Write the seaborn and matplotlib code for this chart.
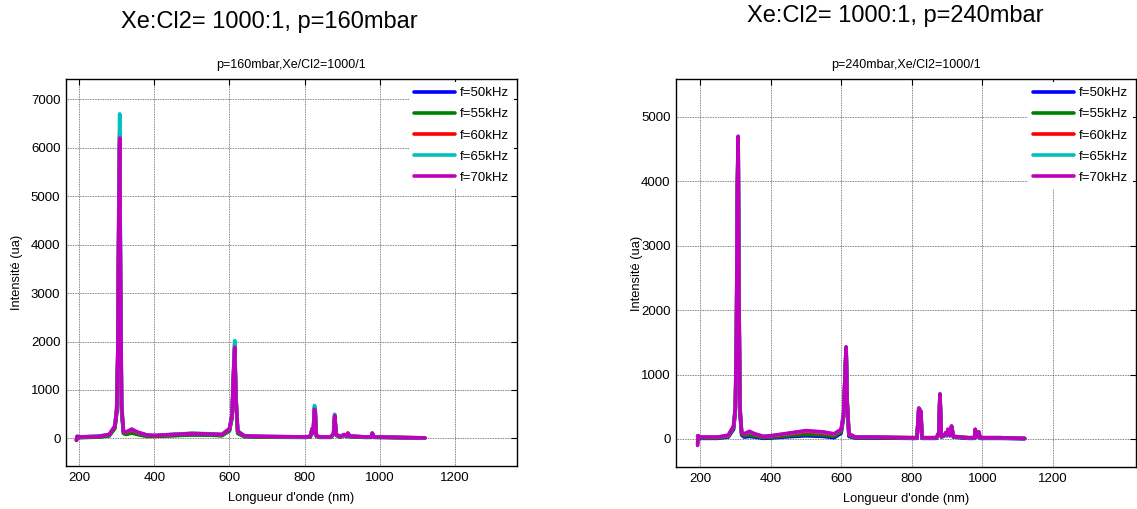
import numpy as np
import pandas as pd
import matplotlib
matplotlib.use("Agg")
import matplotlib.pyplot as plt
import seaborn as sns

# ---- data (wavelength nm, intensity a.u.) ----
series = ["f=50kHz", "f=55kHz", "f=60kHz", "f=65kHz", "f=70kHz"]
colors = ["#0000ff", "#008000", "#ff0000", "#00bfbf", "#bf00bf"]

wl_160 = [193, 195, 200, 250, 280, 295, 300, 303, 306, 308, 310, 313, 318, 325, 340, 355,
          380, 400, 450, 500, 550, 580, 600, 607, 611, 614, 617, 622, 640, 700, 800, 815,
          820, 823, 826, 828, 831, 840, 870, 877, 880, 884, 895, 905, 912, 915, 920, 960,
          978, 980, 984, 1050, 1120]
i160_50 = [-30, 30, 20, 30, 60, 220, 550, 1700, 4800, 6100, 3300, 600, 120, 100, 130, 100,
           50, 45, 60, 80, 75, 60, 170, 450, 1300, 1850, 850, 120, 40, 30, 25, 30,
           180, 110, 560, 540, 50, 25, 25, 90, 450, 70, 30, 70, 40, 100, 40, 25,
           25, 100, 25, 15, 5]
i160_55 = [-30, 30, 15, 25, 50, 200, 500, 1600, 4700, 6000, 3200, 550, 100, 80, 110, 80,
           40, 40, 55, 70, 65, 55, 150, 420, 1250, 1800, 820, 100, 35, 25, 20, 25,
           170, 100, 540, 520, 45, 20, 20, 85, 440, 60, 25, 65, 35, 90, 35, 20,
           20, 95, 20, 15, 5]
i160_60 = [-40, 40, 30, 40, 75, 240, 580, 1750, 5000, 6300, 3400, 650, 140, 120, 170, 120,
           65, 55, 80, 100, 90, 75, 190, 480, 1350, 1950, 880, 140, 45, 35, 30, 35,
           190, 115, 640, 600, 55, 30, 30, 95, 480, 75, 35, 75, 45, 105, 45, 30,
           30, 105, 30, 20, 10]
i160_65 = [-40, 45, 30, 45, 80, 260, 620, 1850, 5300, 6700, 3600, 700, 150, 130, 190, 130,
           70, 60, 85, 105, 95, 80, 200, 500, 1450, 2020, 920, 150, 50, 40, 30, 40,
           200, 120, 680, 650, 60, 30, 30, 100, 500, 80, 40, 80, 50, 110, 50, 30,
           30, 110, 30, 20, 10]
i160_70 = [-40, 40, 30, 40, 80, 250, 600, 1800, 5000, 6200, 3500, 700, 150, 130, 190, 130,
           70, 60, 80, 100, 90, 80, 200, 500, 1400, 1880, 900, 150, 50, 40, 30, 40,
           200, 120, 600, 580, 60, 30, 30, 100, 470, 80, 40, 80, 50, 110, 50, 30,
           30, 110, 30, 20, 10]

wl_240 = [193, 195, 200, 250, 280, 295, 300, 303, 306, 308, 310, 313, 318, 325, 340, 355,
          380, 400, 450, 500, 550, 580, 600, 607, 611, 614, 617, 622, 640, 700, 800, 815,
          820, 822, 824, 826, 829, 840, 870, 877, 880, 884, 893, 897, 900, 903, 908, 913,
          918, 960, 978, 980, 984, 990, 994, 1050, 1120]
i240_50 = [50, 40, 10, 10, 30, 150, 420, 1300, 3800, 4600, 2300, 400, 60, 30, 40, 30,
           10, 15, 35, 50, 40, 20, 90, 340, 950, 1400, 550, 40, 15, 15, 10, 10,
           450, 440, 180, 400, 10, 10, 10, 90, 680, 30, 50, 90, 50, 140, 50, 190,
           30, 10, 10, 140, 30, 100, 10, 10, 5]
i240_55 = [40, 40, 15, 15, 40, 170, 450, 1400, 3900, 4650, 2400, 450, 70, 50, 60, 45,
           20, 25, 50, 70, 60, 40, 110, 360, 970, 1410, 570, 55, 20, 20, 15, 15,
           460, 450, 190, 410, 15, 15, 15, 95, 690, 35, 55, 95, 55, 145, 55, 195,
           35, 15, 15, 145, 35, 105, 15, 15, 5]
i240_60 = [-60, 45, 25, 25, 50, 190, 480, 1450, 3950, 4680, 2450, 480, 90, 70, 100, 70,
           35, 40, 75, 110, 90, 65, 140, 380, 990, 1420, 590, 70, 25, 25, 20, 20,
           470, 460, 195, 420, 20, 20, 20, 100, 695, 40, 60, 100, 60, 150, 60, 200,
           40, 20, 20, 150, 40, 110, 20, 20, 10]
i240_65 = [-80, 50, 30, 30, 55, 200, 500, 1500, 4000, 4700, 2500, 500, 100, 80, 110, 80,
           40, 50, 85, 125, 105, 75, 150, 400, 1000, 1430, 600, 80, 30, 30, 20, 20,
           480, 470, 200, 430, 20, 20, 20, 100, 700, 40, 60, 100, 60, 150, 60, 200,
           40, 20, 20, 150, 40, 110, 20, 20, 10]
i240_70 = [-100, 50, 30, 30, 60, 200, 500, 1500, 4000, 4700, 2500, 500, 100, 80, 120, 80,
           40, 50, 90, 130, 110, 80, 150, 400, 1000, 1430, 600, 80, 30, 30, 20, 20,
           480, 470, 200, 430, 20, 20, 20, 100, 700, 40, 60, 100, 60, 150, 60, 200,
           40, 20, 20, 150, 40, 110, 20, 20, 10]

panels = [
    dict(wl=wl_160, vals=[i160_50, i160_55, i160_60, i160_65, i160_70],
         sup="Xe:Cl2= 1000:1, p=160mbar", title="p=160mbar,Xe/Cl2=1000/1",
         xlim=(165, 1365), ylim=(-570, 7420), yticks=range(0, 7001, 1000),
         rect=[0.058, 0.0845, 0.3967, 0.7603], suppos=(0.2366, 0.957), ylx=-0.095),
    dict(wl=wl_240, vals=[i240_50, i240_55, i240_60, i240_65, i240_70],
         sup="Xe:Cl2= 1000:1, p=240mbar", title="p=240mbar,Xe/Cl2=1000/1",
         xlim=(132, 1436), ylim=(-435, 5590), yticks=range(0, 5001, 1000),
         rect=[0.5946, 0.0825, 0.4046, 0.7623], suppos=(0.787, 0.969), ylx=-0.072),
]

sns.set_theme(style="white")
plt.rcParams["font.family"] = ["Liberation Sans", "DejaVu Sans"]
plt.rcParams["text.color"] = "black"
plt.rcParams["axes.labelcolor"] = "black"

fig = plt.figure(figsize=(11.37, 5.09), dpi=100)

for p in panels:
    frames = []
    for name, v in zip(series, p["vals"]):
        frames.append(pd.DataFrame({"wl": p["wl"], "I": v, "f": name}))
    df = pd.concat(frames, ignore_index=True)

    ax = fig.add_axes(p["rect"])
    sns.lineplot(data=df, x="wl", y="I", hue="f", palette=colors, hue_order=series,
                 estimator=None, linewidth=2.6, ax=ax)
    ax.set_xlim(*p["xlim"])
    ax.set_ylim(*p["ylim"])
    ax.set_xticks(range(200, 1201, 200))
    ax.set_yticks(list(p["yticks"]))
    ax.grid(True, color="0.35", linestyle=(0, (1, 1)), linewidth=0.6)
    ax.tick_params(direction="in", top=True, right=True, length=4, width=0.8,
                   labelsize=9.5, colors="black", pad=4)
    for s in ax.spines.values():
        s.set_color("black")
        s.set_linewidth(1.0)
    ax.set_xlabel("Longueur d'onde (nm)", fontsize=9.3, labelpad=6, color="black")
    ax.set_ylabel("Intensité (ua)", fontsize=9.3, color="black")
    ax.yaxis.set_label_coords(p["ylx"], 0.5)
    ax.set_title(p["title"], fontsize=9, pad=8, color="black")

    sns.move_legend(ax, "upper right", title=None, frameon=True, fontsize=9.5,
                    borderaxespad=0.2, handlelength=3.1, handletextpad=0.38,
                    labelspacing=0.68, borderpad=0.4)
    leg = ax.get_legend()
    leg.get_frame().set_edgecolor("none")
    leg.get_frame().set_facecolor("white")
    leg.get_frame().set_alpha(1)
    leg.get_frame().set_boxstyle("square", pad=0)
    for ln in leg.get_lines():
        ln.set_linewidth(2.6)
    for t in leg.get_texts():
        t.set_color("black")

    fig.text(p["suppos"][0], p["suppos"][1], p["sup"], fontsize=17,
             ha="center", va="center", color="black")

fig.savefig("out.png", dpi=100)
